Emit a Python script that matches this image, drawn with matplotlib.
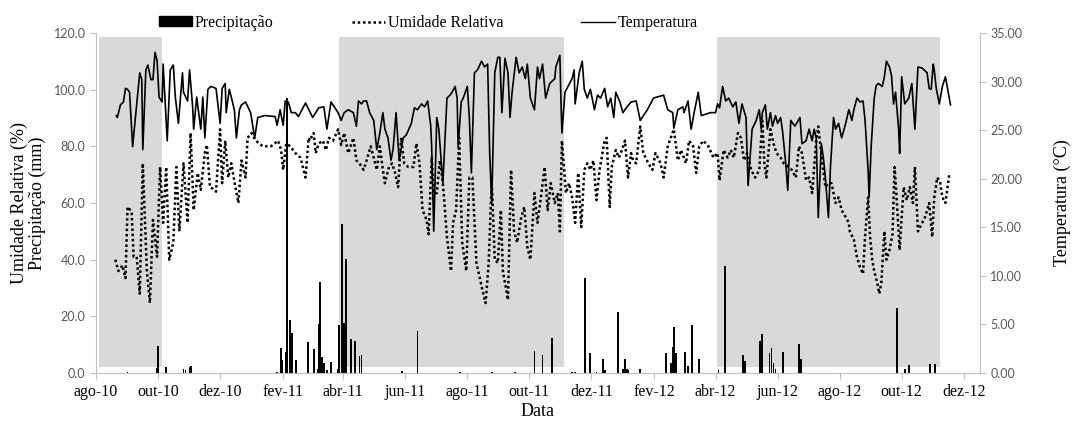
import numpy as np
import pandas as pd
import matplotlib
matplotlib.use('Agg')
import matplotlib.pyplot as plt
from matplotlib.lines import Line2D
from matplotlib.patches import Patch

plt.rcParams['font.family'] = ['Liberation Serif', 'DejaVu Serif']

# ── dados (dias contados a partir de 2010-08-01) ──
inicio = pd.Timestamp('2010-08-01')

# temperatura do ar (°C)
t_dia = [20, 21, 24, 27, 29, 31, 33, 36, 40, 43, 45, 46, 49, 51, 54, 56, 58, 60, 62, 65, 66, 70, 73, 76, 78, 81, 85, 86, 90, 92, 95, 96, 99,
         103, 105, 107, 110, 113, 118, 122, 124, 127, 128, 131, 133, 136, 138, 141, 143, 147, 152, 156, 159, 166, 176, 178, 181, 184, 186, 189, 192, 196, 199, 206,
         213, 219, 224, 227, 231, 238, 241, 244, 248, 253, 256, 258, 261, 263, 266, 269, 273, 276, 279, 282, 284, 287, 290, 292, 295, 298, 302, 305, 310,
         313, 316, 320, 323, 326, 329, 330, 332, 335, 337, 341, 345, 348, 350, 353, 355, 356, 359, 361, 365, 367, 369, 372, 375, 379, 382, 385, 387, 389, 392, 395, 397, 399, 402, 405, 407, 409, 413, 416,
         419, 422, 424, 427, 431, 434, 436, 439, 442, 446, 451, 452, 456, 457, 458, 461, 464, 468, 470, 471, 475, 478, 480, 483, 486, 490, 493, 496, 500, 503, 506, 509, 511, 515, 518, 522,
         526, 531, 535, 542, 548, 558, 562, 567, 568, 572, 577, 578, 582, 585, 588, 592, 595, 604, 609, 611, 613, 616, 619, 622, 626, 629, 632,
         635, 639, 641, 645, 649, 652, 654, 655, 658, 660, 663, 665, 668, 670, 673, 675, 678, 680, 683, 687, 692, 694, 698, 701, 704, 706, 708, 710, 713, 715, 717, 720, 722, 725, 727, 730, 733, 737, 740,
         741, 743, 745, 748, 751, 754, 756, 759, 760, 762, 765, 767, 769, 773, 775, 777, 780, 782, 784, 786, 789, 790, 792, 795, 799, 802, 805, 808, 812, 817, 819, 821, 823, 824, 826, 829, 832, 835, 840]
t_temp = [26.5, 26.3, 27.6, 27.9, 29.3, 29.2, 28.9, 23.3, 27.7, 30.9, 30.2, 23.0, 31.2, 31.7, 30.2, 30.2, 33.0, 32.2, 28.4, 27.9, 31.8, 23.9, 31.2, 31.7, 28.4, 25.7, 30.9, 28.9, 28.0, 31.2, 27.4, 25.1, 28.4,
          25.1, 28.4, 24.2, 29.2, 29.5, 29.3, 25.7, 29.3, 29.8, 26.8, 29.2, 28.4, 27.1, 24.2, 27.1, 27.6, 27.9, 26.8, 24.2, 26.3, 26.5, 26.4, 25.5, 27.1, 25.5, 28.0, 27.9, 26.8, 26.8, 26.4, 27.8,
          26.3, 27.3, 27.4, 25.1, 27.9, 26.8, 26.0, 26.8, 27.1, 26.8, 25.4, 28.0, 27.7, 28.0, 28.0, 26.8, 26.0, 23.0, 24.7, 26.8, 25.1, 24.2, 21.9, 23.0, 26.8, 21.9, 24.2, 24.5, 25.7,
          27.3, 27.1, 27.7, 27.4, 28.0, 25.5, 23.3, 14.6, 26.3, 25.1, 19.5, 28.3, 28.6, 28.9, 29.5, 28.3, 23.3, 27.9, 28.3, 29.5, 26.3, 20.6, 30.9, 31.2, 32.1, 31.5, 31.8, 22.6, 17.5, 30.9, 32.5, 32.5, 26.8, 32.4, 30.9, 26.3, 28.9, 32.5, 30.9,
          31.5, 30.3, 31.8, 28.3, 27.1, 31.5, 30.3, 31.8, 28.3, 29.8, 30.3, 31.5, 32.7, 28.3, 24.7, 28.9, 29.5, 30.3, 31.2, 27.7, 30.9, 32.1, 29.2, 28.3, 29.2, 27.1, 28.6, 28.3, 29.3, 27.4, 28.3, 26.3, 28.9, 27.9, 26.8, 27.4,
          27.9, 28.0, 26.0, 27.1, 28.3, 28.6, 27.1, 26.8, 25.2, 27.1, 27.4, 26.8, 28.0, 25.1, 26.8, 28.9, 26.5, 26.8, 26.8, 27.7, 27.3, 29.5, 28.0, 28.3, 27.4, 27.9, 25.7,
          27.7, 26.3, 19.3, 25.1, 26.0, 27.1, 25.1, 26.8, 27.6, 25.1, 26.8, 25.4, 26.5, 25.7, 26.3, 24.8, 21.6, 18.8, 26.0, 25.4, 26.3, 23.6, 23.9, 25.1, 23.9, 25.1, 24.2, 16.0, 23.6, 22.2, 20.1, 16.0, 21.2, 26.3, 25.1, 25.7, 24.2, 25.7, 27.1,
          26.8, 26.0, 27.1, 28.3, 27.9, 28.0, 26.0, 20.9, 18.1, 23.3, 28.3, 29.6, 29.8, 29.5, 30.5, 32.1, 31.5, 30.6, 27.7, 28.9, 25.1, 22.6, 30.5, 27.7, 28.3, 29.8, 25.1, 31.5, 31.4, 30.9, 29.3, 29.2, 31.8, 31.2, 29.3, 27.7, 29.5, 30.5, 27.6]

# umidade relativa (%)
u_dia = [19, 22, 26, 29, 31, 35, 37, 40, 43, 46, 50, 53, 56, 60, 63, 66, 69, 72, 76, 79, 82, 86, 90, 93, 96,
         100, 103, 107, 109, 112, 115, 118, 122, 124, 127, 130, 133, 137, 140, 143, 147, 149, 153, 157, 164, 172, 179, 182, 184, 187, 191, 196, 201, 206, 209,
         210, 214, 216, 219, 223, 226, 229, 233, 238, 241, 244, 248, 253, 256, 259, 263, 266, 270, 273, 276, 279, 282, 284, 288, 291, 294, 297, 300, 303, 307, 312,
         315, 318, 321, 325, 327, 330, 332, 335, 338, 341, 345, 349, 351, 354, 357, 360, 364, 367, 370, 374, 377, 380, 383, 386, 389, 392, 395, 398, 400, 405, 408, 411, 414, 418,
         421, 424, 427, 431, 434, 437, 441, 444, 447, 451, 454, 456, 458, 462, 465, 468, 471, 474, 477, 480, 483, 486, 489, 492, 495, 500, 502, 505, 507, 511, 514, 517, 520, 523, 526,
         528, 531, 535, 538, 543, 547, 550, 555, 558, 562, 565, 568, 572, 575, 580, 583, 587, 590, 593, 597, 602, 607, 611, 613, 617, 621, 624, 627, 631,
         634, 637, 640, 644, 648, 652, 655, 657, 659, 663, 666, 669, 673, 676, 681, 684, 688, 691, 694, 698, 701, 704, 708, 710, 714, 717, 720, 723, 727, 730, 733, 737, 740,
         741, 745, 748, 751, 754, 756, 759, 761, 763, 765, 768, 770, 772, 775, 777, 780, 783, 785, 787, 790, 792, 794, 797, 800, 803, 805, 808, 810, 815, 819, 822, 824, 827, 830, 832, 835, 839]
u_val = [40, 36, 38, 33.5, 58.6, 57, 41, 41, 28, 74, 36, 24.7, 54, 41, 72.7, 53, 72.7, 40, 46, 72.7, 50, 74, 53, 84.7, 57.5,
         70.6, 64.6, 77.6, 80.5, 65.6, 65, 64, 86, 67, 82, 69, 74, 65.6, 60, 75, 69, 83, 84.7, 82, 80, 80, 82, 78.7, 71.7, 81, 80, 77.6, 76, 69, 83,
         82, 84.7, 77.6, 81, 82, 78.7, 83, 82, 86, 80.5, 84.7, 77.6, 83, 75, 74, 71.7, 75, 80, 76, 71.7, 80, 71.7, 67, 72.7, 74, 70.6, 65.6, 83, 74, 72.7, 72.7,
         81, 74, 57.5, 54, 49, 76, 63.5, 63.5, 75, 67, 48, 36, 53, 57.5, 83, 46, 36, 69, 69, 38.8, 34, 29, 24.7, 38.8, 68, 40, 38.8, 57.5, 36, 25.8, 71.7, 50, 46, 55,
         58.6, 44.5, 40, 63.5, 53, 61, 72.7, 57.5, 67, 60, 63.5, 50, 82, 63.5, 67, 62, 53, 70.6, 51.5, 71.7, 74, 71.7, 75, 61, 71.7, 82, 83, 58.6, 72.7, 78.7, 76, 78.7, 82, 69, 77.6,
         75, 74, 87, 77.6, 74, 71.7, 77.6, 74, 69, 80, 83, 86, 75, 78.7, 74, 82, 80, 70.6, 80, 82, 80, 76, 77.6, 68, 78.7, 76, 78.7, 76, 84.7,
         83, 75, 77.6, 71.7, 69, 71.7, 89, 74, 69, 86, 81, 77.6, 76, 74, 72.7, 71.7, 69, 80, 77.6, 68, 69, 63.5, 82, 87, 74, 65.6, 67, 67, 60, 62, 57.5, 55, 53,
         50, 47, 41, 37.4, 35, 48, 62, 48, 40, 36, 31.8, 28, 31.8, 50, 40, 43.4, 49, 72.7, 62, 43.4, 55, 65.6, 61, 65.6, 60, 72.7, 50, 51.5, 55, 60, 48, 62, 69, 67, 62, 60, 70.6]

# precipitação diária (mm)
p_dia = [31, 60, 61, 69, 86, 88, 92, 93, 178, 182, 183, 187, 188, 191, 193, 197, 208, 214, 218, 219, 220, 222, 224, 227,
         231, 238, 239, 242, 244, 246, 251, 255, 259, 261, 301, 316, 358, 389, 412, 431, 439, 448, 468, 471, 481, 486, 492, 498,
         500, 513, 518, 520, 522, 523, 535, 560, 565, 567, 568, 570, 579, 582, 586, 593, 612, 618, 636, 638, 653, 655, 662, 664,
         666, 668, 675, 691, 693, 787, 795, 799, 820, 825]
p_mm = [0.4, 1.8, 9.5, 2, 1.5, 1, 2.1, 2.4, 0.3, 8.9, 4.7, 7.3, 97, 18.7, 14, 4.7, 10.9, 8.3, 1.4, 17.2, 32, 5.7, 3.6, 1,
        3.8, 1.5, 16.8, 52.6, 17.8, 40.2, 12.1, 11.4, 5.9, 6.3, 0.8, 14.8, 0.2, 0.2, 0.2, 7.7, 6.4, 12.3, 0.5, 0.3, 33.6, 7.2, 0.5, 5.1,
        1, 21.6, 1.5, 5.1, 1.5, 1, 1.5, 7.2, 3.4, 9.3, 16.1, 6.9, 7.5, 2.4, 16.8, 4.8, 1, 37.7, 6.2, 4.1, 11.3, 13.7, 7.2, 8.9,
        3.4, 1.4, 7.5, 10.3, 5.1, 23, 1.4, 2.7, 3.1, 3.1]

# períodos destacados (faixas cinzas)
faixa_ini = ['2010-08-04', '2011-03-28', '2012-04-02']
faixa_fim = ['2010-10-05', '2011-11-04', '2012-11-08']

meses = ['jan', 'fev', 'mar', 'abr', 'mai', 'jun', 'jul', 'ago', 'set', 'out', 'nov', 'dez']

t_datas = inicio + pd.to_timedelta(t_dia, unit='D')
u_datas = inicio + pd.to_timedelta(u_dia, unit='D')
p_datas = inicio + pd.to_timedelta(p_dia, unit='D')

# ── figura ──
fig = plt.figure(figsize=(10.73, 4.23), dpi=100)
ax = fig.add_axes([96/1073, 50/423, 884/1073, 340/423])

for a, b in zip(faixa_ini, faixa_fim):
    ax.fill_between([pd.Timestamp(a), pd.Timestamp(b)], 2, 118.5, color='#d9d9d9', lw=0, zorder=0)

ax.bar(p_datas, p_mm, width=1.8, color='black', zorder=2)
ax.plot(u_datas, u_val, color='black', lw=1.8, linestyle=(0, (1, 1.1)), zorder=3)

ax2 = ax.twinx()
ax2.plot(t_datas, t_temp, color='black', lw=1.2, zorder=4)

ax.set_xlim(pd.Timestamp('2010-08-01'), pd.Timestamp('2012-12-17'))
ax.set_ylim(0, 120)
ax2.set_ylim(0, 35)

ticks_x = pd.date_range('2010-08-01', '2012-12-01', freq='2MS')
ax.set_xticks(ticks_x)
ax.set_xticklabels([f"{meses[d.month - 1]}-{d.strftime('%y')}" for d in ticks_x], fontsize=11.5)

ax.set_yticks(np.arange(0, 121, 20))
ax.set_yticklabels([f'{v:.1f}' for v in np.arange(0, 121, 20)], family=['Lato', 'DejaVu Sans'], fontsize=9, color='#595959')
ax2.set_yticks(np.arange(0, 36, 5))
ax2.set_yticklabels([f'{v:.2f}' for v in np.arange(0, 36, 5)], family=['Lato', 'DejaVu Sans'], fontsize=9, color='#595959')

for a in (ax, ax2):
    a.spines['top'].set_visible(False)
    for s in ('left', 'right', 'bottom'):
        a.spines[s].set_color('#bfbfbf')
ax.spines['right'].set_visible(False)
ax2.spines['left'].set_visible(False)
ax2.spines['bottom'].set_visible(False)

ax.tick_params(axis='both', color='#bfbfbf', length=4, direction='out')
ax.tick_params(axis='x', pad=4)
ax2.tick_params(axis='y', color='#bfbfbf', length=4, direction='out')

ax.set_xlabel('Data', fontsize=13, labelpad=2)
ax.set_ylabel('Umidade Relativa (%)\nPrecipitação (mm)', fontsize=13, linespacing=1.0)
ax.yaxis.set_label_coords(-0.057, 0.5)
ax2.set_ylabel('Temperatura (°C)', fontsize=13)
ax2.yaxis.set_label_coords(1.083, 0.5)

handles = [Patch(facecolor='black', edgecolor='black', label='Precipitação'),
           Line2D([], [], color='black', lw=1.8, linestyle=(0, (1, 1.1)), label='Umidade Relativa'),
           Line2D([], [], color='black', lw=1.0, label='Temperatura')]
fig.legend(handles=handles, loc='center', bbox_to_anchor=(428/1073, 1 - 23/423), ncol=3, frameon=False,
           fontsize=11.5, handlelength=2.1, handletextpad=0.15, columnspacing=4.9, handleheight=0.6)

fig.savefig('out.png', dpi=100, facecolor='white')
